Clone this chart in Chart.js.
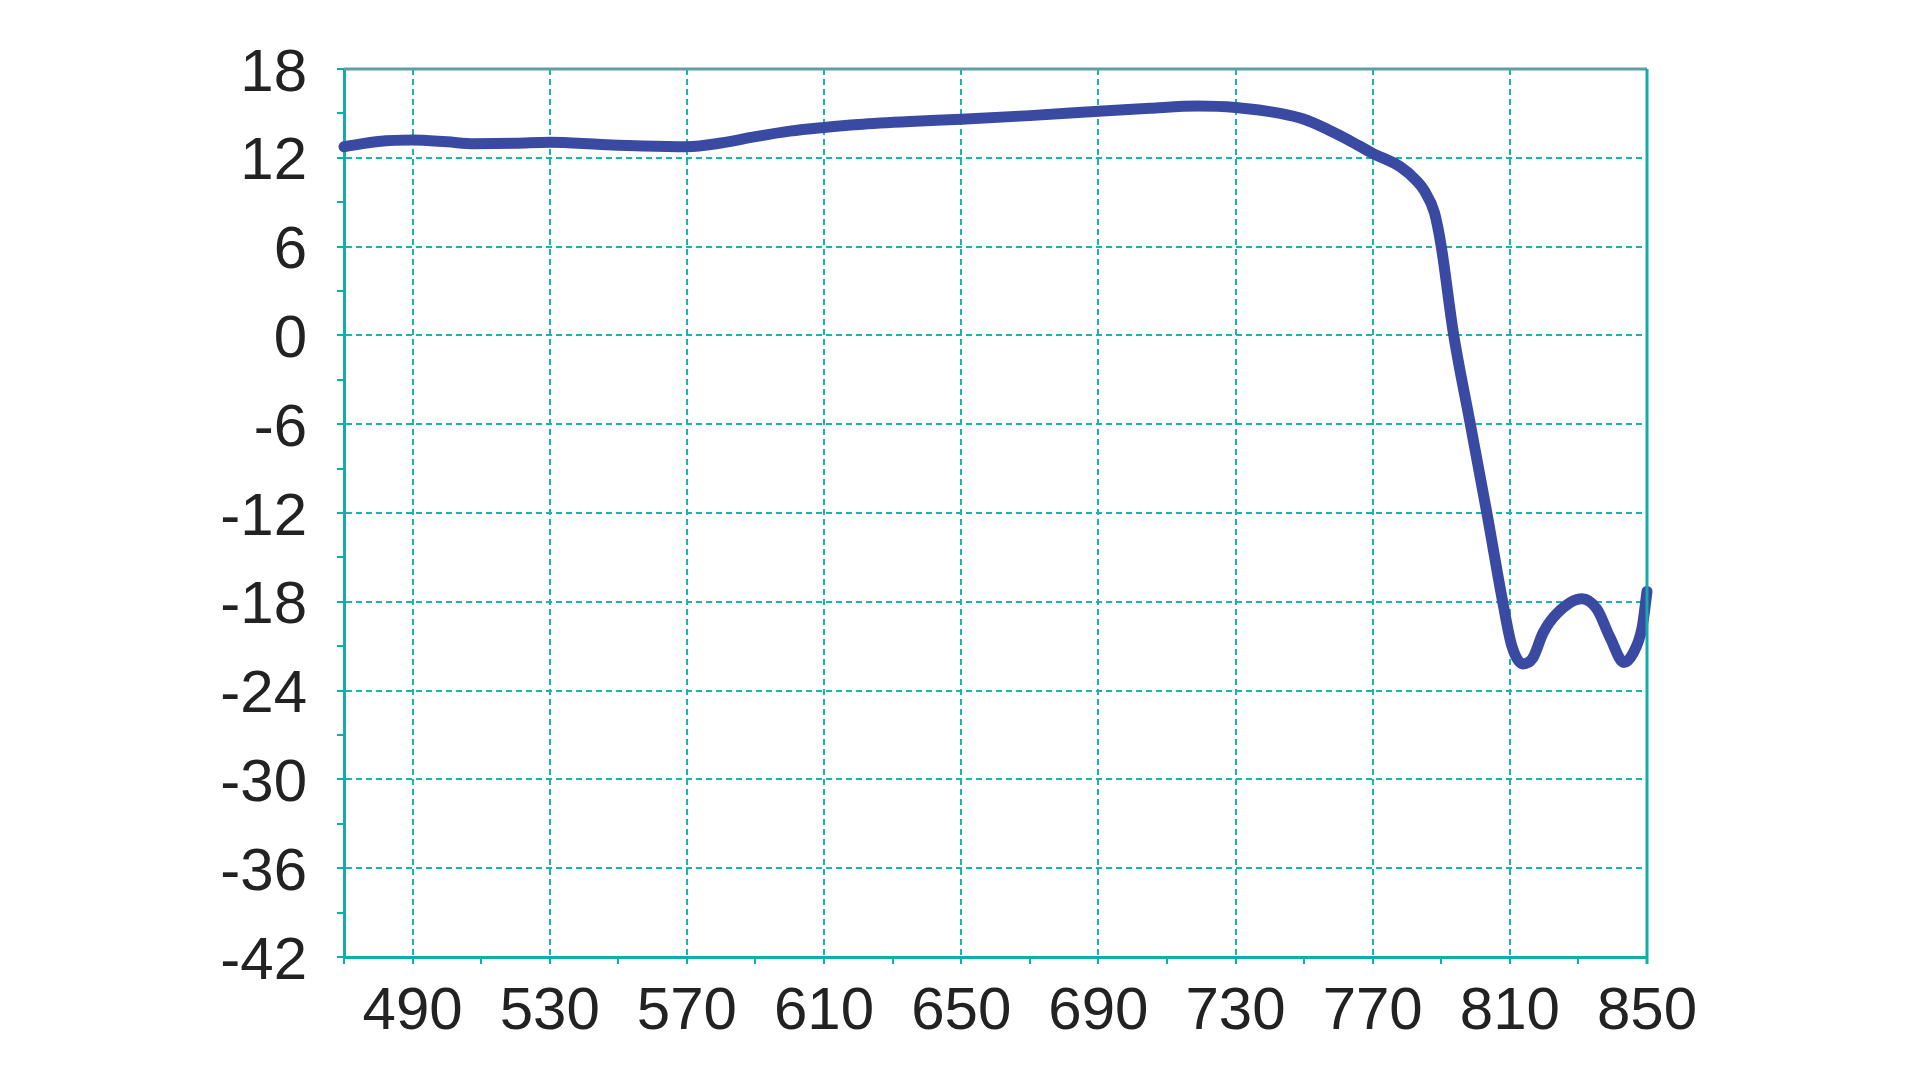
<!DOCTYPE html>
<html>
<head>
<meta charset="utf-8">
<script src="https://cdn.jsdelivr.net/npm/chart.js@4.4.0/dist/chart.umd.min.js"></script>
<style>
  html, body { margin: 0; padding: 0; background: #fff; }
  #wrap { width: 1920px; height: 1080px; }
</style>
</head>
<body>
<div id="wrap"><canvas id="myChart" width="1920" height="1080"></canvas></div>
<script>
// wavelength (x) and response (y)
const wavelength = [470, 480, 490, 500, 508, 520, 530, 545, 557, 570, 580, 590, 600, 610, 620, 635, 650, 670, 690, 705, 719, 730, 743, 750, 757, 763, 770, 778, 783, 785, 788, 790, 793.5, 798.4, 803.3, 808, 810.6, 813.8, 816.7, 819.7, 823.7, 831, 835.4, 839.2, 843.3, 845.9, 848.6, 850];
const response   = [12.75, 13.1, 13.2, 13.08, 12.95, 12.98, 13.05, 12.9, 12.8, 12.75, 13.0, 13.43, 13.8, 14.05, 14.25, 14.45, 14.6, 14.85, 15.15, 15.35, 15.5, 15.4, 15.0, 14.6, 13.9, 13.2, 12.3, 11.4, 10.4, 9.8, 8.3, 6.0, 0.2, -5.9, -12.0, -18.1, -21.0, -22.2, -21.8, -20.1, -18.8, -17.8, -18.5, -20.4, -22.1, -21.5, -19.7, -17.3];

const xTicks = [470, 490, 510, 530, 550, 570, 590, 610, 630, 650, 670, 690, 710, 730, 750, 770, 790, 810, 830, 850];
const yTicks = [-42, -39, -36, -33, -30, -27, -24, -21, -18, -15, -12, -9, -6, -3, 0, 3, 6, 9, 12, 15, 18];

const axisColor = "#14aca8";
const gridColor = "#1cb2ae";

const isXMajor = v => (v - 490) % 40 === 0;
const isYMajor = v => v % 6 === 0;

// draws top and right frame lines
const frame = {
  id: "frame",
  afterDraw: (chart) => {
    const { ctx, chartArea: a } = chart;
    ctx.save();
    ctx.lineWidth = 3;
    ctx.strokeStyle = "#5f9fa1";
    ctx.beginPath();
    ctx.moveTo(a.left, a.top);
    ctx.lineTo(a.right, a.top);
    ctx.stroke();
    ctx.strokeStyle = axisColor;
    ctx.beginPath();
    ctx.moveTo(a.right, a.top);
    ctx.lineTo(a.right, a.bottom + 7);
    ctx.stroke();
    ctx.restore();
  }
};

const chartCtx = document.getElementById("myChart").getContext("2d");
new Chart(chartCtx, {
  type: "line",
  data: {
    datasets: [{
      data: wavelength.map((w, i) => ({ x: w, y: response[i] })),
      borderColor: "#3a4aa2",
      borderWidth: 11,
      borderCapStyle: "round",
      borderJoinStyle: "round",
      pointRadius: 0,
      cubicInterpolationMode: "monotone",
      clip: false,
      fill: false
    }]
  },
  options: {
    responsive: false,
    animation: false,
    layout: { padding: { left: 0, right: 273, top: 69, bottom: 0 } },
    plugins: { legend: { display: false }, tooltip: { enabled: false } },
    scales: {
      x: {
        type: "linear",
        min: 470,
        max: 850,
        afterBuildTicks: (scale) => { scale.ticks = xTicks.map(v => ({ value: v })); },
        afterFit: (scale) => { scale.height = 123; },
        ticks: {
          autoSkip: false,
          maxRotation: 0,
          padding: 12,
          color: "#222",
          font: { family: "Liberation Sans, Arial, sans-serif", size: 60 },
          callback: (v) => isXMajor(v) ? String(v) : ""
        },
        grid: {
          lineWidth: 2,
          tickLength: 7,
          tickWidth: 2,
          tickColor: axisColor,
          color: (c) => (c.tick && isXMajor(c.tick.value) && c.tick.value !== 850) ? gridColor : "rgba(0,0,0,0)"
        },
        border: { display: true, color: axisColor, width: 3, dash: [6, 4] }
      },
      y: {
        type: "linear",
        min: -42,
        max: 18,
        afterBuildTicks: (scale) => { scale.ticks = yTicks.map(v => ({ value: v })); },
        afterFit: (scale) => { scale.width = 344; },
        ticks: {
          autoSkip: false,
          padding: 30,
          labelOffset: 5,
          color: "#222",
          font: { family: "Liberation Sans, Arial, sans-serif", size: 60 },
          callback: (v) => isYMajor(v) ? String(v) : ""
        },
        grid: {
          lineWidth: 2,
          tickLength: 7,
          tickWidth: 2,
          tickColor: axisColor,
          color: (c) => (c.tick && isYMajor(c.tick.value) && c.tick.value !== 18 && c.tick.value !== -42) ? gridColor : "rgba(0,0,0,0)"
        },
        border: { display: true, color: axisColor, width: 3, dash: [6, 4] }
      }
    }
  },
  plugins: [frame]
});
</script>
</body>
</html>
